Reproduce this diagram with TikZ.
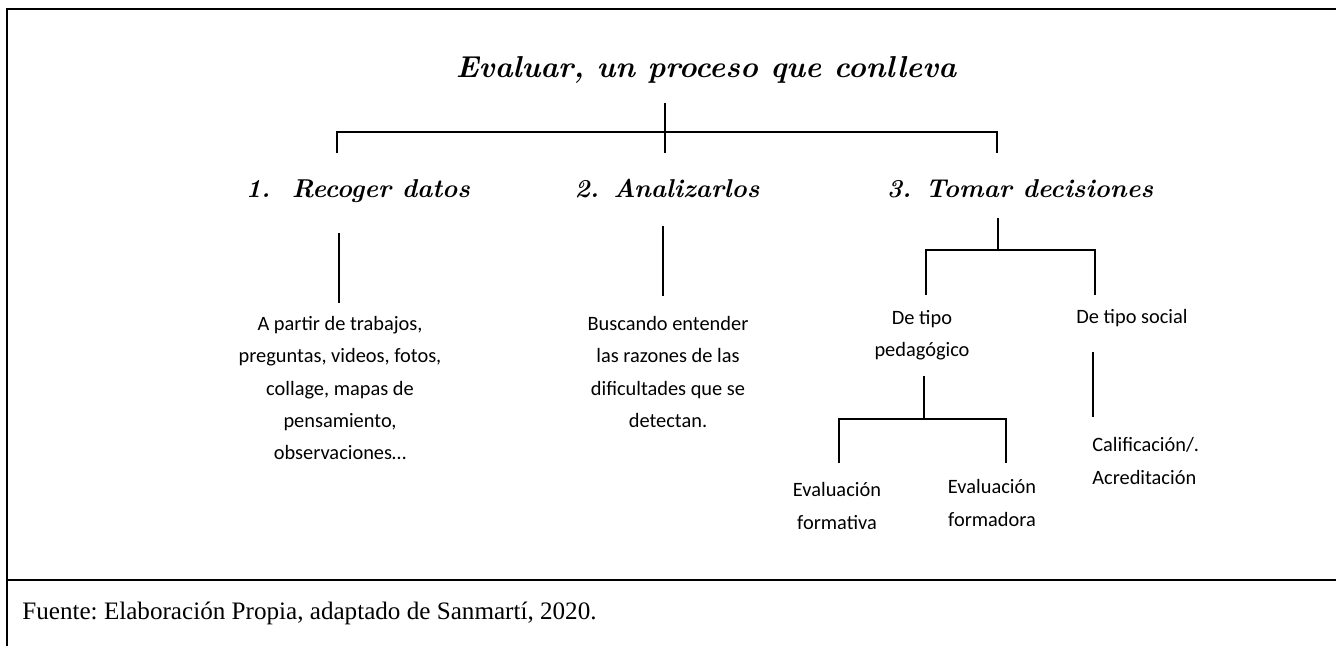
\documentclass[tikz,border=0pt]{standalone}
\usepackage{fontspec}
\newfontfamily\bodyfont{Carlito}
\newfontfamily\capfont{Liberation Serif}
\usetikzlibrary{positioning}
\tikzset{
  ttl/.style={font=\fontsize{17.2}{22}\selectfont\bfseries\itshape,inner sep=0pt,anchor=base},
  hd/.style={font=\fontsize{14.7}{18}\selectfont\bfseries\itshape,inner sep=0pt,anchor=base},
  txt/.style={font=\bodyfont\fontsize{11.6}{18.4}\selectfont,align=center,inner sep=0pt},
  src/.style={font=\capfont\fontsize{14.3}{17}\selectfont\frenchspacing,inner sep=0pt,anchor=base west},
  lnk/.style={line width=1pt},
  frm/.style={line width=1.5pt},
}
\begin{document}
\begin{tikzpicture}[x=0.02cm,y=-0.02cm]
  \useasboundingbox (0,0) rectangle (1336,646);
  % table frame
  \draw[frm] (7,646) -- (7,9) -- (1336,9);
  \draw[frm] (7,580) -- (1336,580);

  \node[ttl] (title) at (706,77) {Evaluar, un proceso que conlleva};
  \node[hd] (rec) at (358,197) {1.\ \ Recoger datos};
  \node[hd] (ana) at (667,197) {2. Analizarlos};
  \node[hd] (dec) at (1020,197) {3. Tomar decisiones};

  \node[txt] (datos) at (340,388) {A partir de trabajos,\\ preguntas, videos, fotos,\\ collage, mapas de\\ pensamiento,\\ observaciones…};
  \node[txt] (razon) at (668,372) {Buscando entender\\ las razones de las\\ dificultades que se\\ detectan.};
  \node[txt] (ped) at (922,335) {De tipo\\ pedagógico};
  \node[txt] (soc) at (1132,318) {De tipo social};
  \node[txt] (fva) at (837,506) {Evaluación\\ formativa};
  \node[txt] (fda) at (992,503) {Evaluación\\ formadora};
  \node[txt,align=left,anchor=west] (cal) at (1092,461) {Calificación/.\\ Acreditación};
  \node[src] (fuente) at (22,619) {Fuente: Elaboración Propia, adaptado de Sanmartí, 2020.};

  % first level
  \coordinate (t0) at (665,103);
  \coordinate (j0) at (665,132);
  \coordinate (j1) at (337,153);
  \coordinate (j2) at (665,153);
  \coordinate (j3) at (997,153);
  \draw[lnk] (t0) -- (j0);
  \draw[lnk] (j1) |- (j0) -| (j3);
  \draw[lnk] (j0) -- (j2);

  % under the steps
  \coordinate (a1) at (339,233); \coordinate (b1) at (339,303);
  \coordinate (a2) at (663,226); \coordinate (b2) at (663,296);
  \draw[lnk] (a1) -- (b1);
  \draw[lnk] (a2) -- (b2);

  % decisions
  \coordinate (a3) at (998,218); \coordinate (k3) at (998,250);
  \coordinate (p3) at (926,295); \coordinate (s3) at (1095,295);
  \draw[lnk] (a3) -- (k3);
  \draw[lnk] (p3) |- (k3) -| (s3);

  % pedagogical
  \coordinate (a4) at (924,376); \coordinate (k4) at (924,419);
  \coordinate (f1) at (839,463); \coordinate (f2) at (1006,463);
  \draw[lnk] (a4) -- (k4);
  \draw[lnk] (f1) |- (k4) -| (f2);

  % social
  \coordinate (a5) at (1093,352); \coordinate (b5) at (1093,417);
  \draw[lnk] (a5) -- (b5);
\end{tikzpicture}
\end{document}
